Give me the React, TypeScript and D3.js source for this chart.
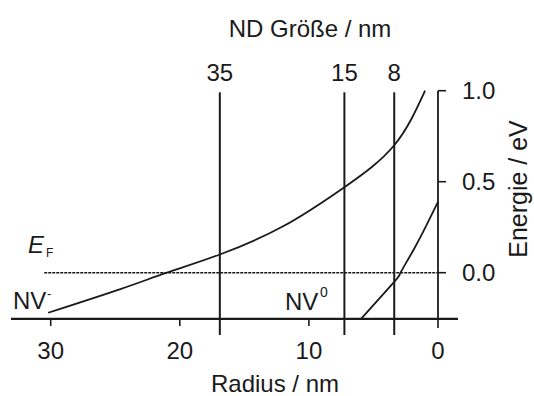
import React from "react";
import * as d3 from "d3";

const W = 534;
const H = 396;

// Radius ticks (bottom axis)
const radiusTicks = [30, 20, 10, 0];
// ND size (top axis) labels and their radius positions
const ndLabels = ["35", "15", "8"];
const ndRadius = [16.9, 7.25, 3.39];
// Energy ticks (right axis)
const energyTicks = [0.0, 0.5, 1.0];

// NV- curve: [radius nm, energy eV]
const nvMinusR = [30.2, 24.6, 21.0, 16.9, 12.0, 7.25, 3.39, 1.0];
const nvMinusE = [-0.22, -0.09, 0.0, 0.1, 0.255, 0.47, 0.7, 1.0];
// NV0 curve
const nv0R = [5.96, 3.39, 2.9, 1.9, 0.9, 0.0];
const nv0E = [-0.254, -0.05, 0.0, 0.125, 0.26, 0.39];

const FONT = "'Liberation Sans', Arial, Helvetica, sans-serif";
const INK = "#1a1a1a";

export default function App() {
  const x = d3.scaleLinear().domain([0, 30]).range([438, 50.7]);
  const y = d3.scaleLinear().domain([0, 1]).range([272.7, 90.7]);
  const axisY = y(-0.254);
  const axisX = x(0);

  const line = d3
    .line<[number, number]>()
    .x((d) => x(d[0]))
    .y((d) => y(d[1]))
    .curve(d3.curveNatural);

  const big = nvMinusR.map((r, i) => [r, nvMinusE[i]] as [number, number]);
  const small = nv0R.map((r, i) => [r, nv0E[i]] as [number, number]);

  return (
    <svg
      width={W}
      height={H}
      style={{ position: "absolute", left: 0, top: 0, background: "#fff" }}
      fontFamily={FONT}
    >
      {/* Title */}
      <text x={310} y={37} fontSize={24} textAnchor="middle" fill={INK}>
        ND Größe / nm
      </text>

      {/* ND size vertical lines + labels */}
      {ndRadius.map((r, i) => (
        <g key={ndLabels[i]}>
          <line x1={x(r)} x2={x(r)} y1={92.3} y2={335} stroke={INK} strokeWidth={2} />
          <text x={x(r)} y={80.5} fontSize={24} textAnchor="middle" fill={INK}>
            {ndLabels[i]}
          </text>
        </g>
      ))}

      {/* Fermi level dashed line */}
      <line
        x1={x(30.5)}
        x2={axisX}
        y1={y(0)}
        y2={y(0)}
        stroke={INK}
        strokeWidth={1.4}
        strokeDasharray="3,1"
      />

      {/* Bottom axis */}
      <line x1={11} x2={458} y1={axisY} y2={axisY} stroke={INK} strokeWidth={2.2} />
      {radiusTicks.map((t) => (
        <g key={t}>
          <line x1={x(t)} x2={x(t)} y1={axisY} y2={axisY + (t === 0 ? 9 : 7)} stroke={INK} strokeWidth={1.6} />
          <text x={x(t)} y={359} fontSize={24} textAnchor="middle" fill={INK}>
            {t}
          </text>
        </g>
      ))}
      <text x={275} y={392} fontSize={24} textAnchor="middle" fill={INK}>
        Radius / nm
      </text>

      {/* Right axis */}
      <line x1={axisX} x2={axisX} y1={y(1)} y2={axisY} stroke={INK} strokeWidth={1.8} />
      {energyTicks.map((t) => (
        <g key={t}>
          <line x1={axisX} x2={axisX + 8} y1={y(t)} y2={y(t)} stroke={INK} strokeWidth={1.6} />
          <text x={462} y={y(t)} dy="0.36em" fontSize={24} fill={INK}>
            {t.toFixed(1)}
          </text>
        </g>
      ))}
      <text
        transform={`translate(527,189) rotate(-90)`}
        fontSize={25}
        textAnchor="middle"
        fill={INK}
      >
        Energie / eV
      </text>

      {/* Curves */}
      <path d={line(big) || ""} fill="none" stroke={INK} strokeWidth={1.8} />
      <path d={line(small) || ""} fill="none" stroke={INK} strokeWidth={1.8} />

      {/* Labels */}
      <text x={28} y={253} fontSize={24} fontStyle="italic" fill={INK}>
        E
      </text>
      <text x={46} y={257} fontSize={12} fill={INK}>
        F
      </text>
      <text x={13} y={309} fontSize={24} fill={INK}>
        NV
      </text>
      <text x={47} y={298} fontSize={13} fill={INK}>
        -
      </text>
      <text x={285} y={310} fontSize={24} fill={INK}>
        NV
      </text>
      <text x={320} y={297} fontSize={14} fill={INK}>
        0
      </text>
    </svg>
  );
}
